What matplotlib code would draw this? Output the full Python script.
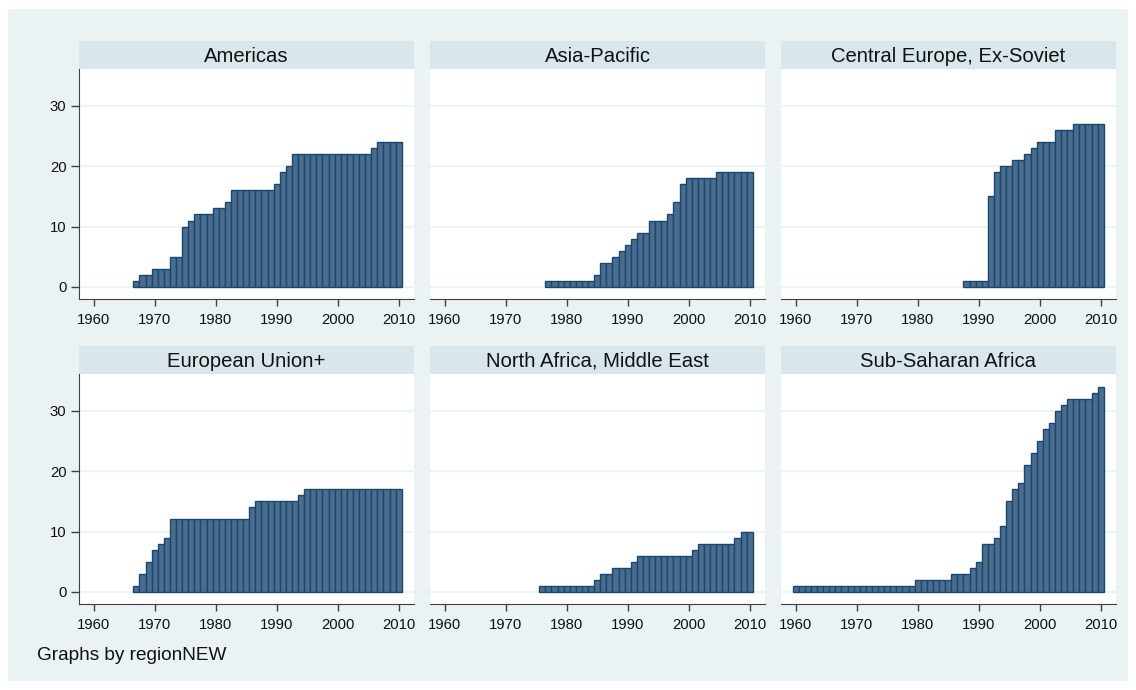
import numpy as np
import matplotlib

matplotlib.use("Agg")
import matplotlib.pyplot as plt  # noqa: E402
from matplotlib.patches import Rectangle  # noqa: E402

plt.rcParams["font.family"] = ["Liberation Sans", "DejaVu Sans"]

# counts per year, each region starts at its first year and runs through 2010
regions = [
    "Americas",
    "Asia-Pacific",
    "Central Europe, Ex-Soviet",
    "European Union+",
    "North Africa, Middle East",
    "Sub-Saharan Africa",
]
start_years = [1967, 1977, 1988, 1967, 1976, 1960]

americas = [1, 2, 2, 3, 3, 3, 5, 5, 10, 11, 12, 12, 12, 13, 13, 14,
            16, 16, 16, 16, 16, 16, 16, 17, 19, 20,
            22, 22, 22, 22, 22, 22, 22, 22, 22, 22, 22, 22, 22, 23, 24, 24, 24, 24]
asia_pacific = [1, 1, 1, 1, 1, 1, 1, 1, 2, 4, 4, 5, 6, 7, 8, 9, 9, 11, 11, 11,
                12, 14, 17, 18, 18, 18, 18, 18, 19, 19, 19, 19, 19, 19]
central_europe = [1, 1, 1, 1, 15, 19, 20, 20, 21, 21, 22, 23, 24, 24, 24,
                  26, 26, 26, 27, 27, 27, 27, 27]
european_union = [1, 3, 5, 7, 8, 9, 12, 12, 12, 12, 12, 12, 12, 12, 12, 12, 12, 12, 12,
                  14, 15, 15, 15, 15, 15, 15, 15, 16,
                  17, 17, 17, 17, 17, 17, 17, 17, 17, 17, 17, 17, 17, 17, 17, 17]
north_africa = [1, 1, 1, 1, 1, 1, 1, 1, 1, 2, 3, 3, 4, 4, 4, 5,
                6, 6, 6, 6, 6, 6, 6, 6, 6, 7, 8, 8, 8, 8, 8, 8, 9, 10, 10]
sub_saharan = [1, 1, 1, 1, 1, 1, 1, 1, 1, 1, 1, 1, 1, 1, 1, 1, 1, 1, 1, 1,
               2, 2, 2, 2, 2, 2, 3, 3, 3, 4, 5, 8, 8, 9, 11, 15, 17, 18, 21, 23,
               25, 27, 28, 30, 31, 32, 32, 32, 32, 33, 34]
series = [americas, asia_pacific, central_europe, european_union, north_africa, sub_saharan]

x_ticks = [1960, 1970, 1980, 1990, 2000, 2010]
y_ticks = [0, 10, 20, 30]

BG = "#eaf2f3"
STRIP = "#d9e6eb"
BAR_FILL = "#4b6d8d"
BAR_EDGE = "#1a476f"
AXIS = "#404040"

W, H = 1136, 690
fig = plt.figure(figsize=(W / 100, H / 100), dpi=100, facecolor="white")
fig.patches.append(Rectangle((8 / W, 9 / H), 1120 / W, 672 / H, transform=fig.transFigure,
                             facecolor=BG, edgecolor="none", zorder=-10))


def px_axes(left, top, width, height):
    return fig.add_axes([left / W, 1 - (top + height) / H, width / W, height / H])


col_left = [79, 430, 781]
plot_top = [69, 374]
plot_w, plot_h, strip_h = 335, 230, 28

for i, (name, start, values) in enumerate(zip(regions, start_years, series)):
    row, col = divmod(i, 3)
    left, top = col_left[col], plot_top[row]

    strip = px_axes(left, top - strip_h, plot_w, strip_h)
    strip.set_facecolor(STRIP)
    strip.set_xticks([])
    strip.set_yticks([])
    for s in strip.spines.values():
        s.set_visible(False)
    strip.text(0.5, 0.45, name, ha="center", va="center", fontsize=14.6, color="#111111",
               transform=strip.transAxes)

    ax = px_axes(left, top, plot_w, plot_h)
    ax.set_facecolor("white")
    years = np.arange(start, start + len(values))
    ax.bar(years, values, width=1.0, color=BAR_FILL, edgecolor=BAR_EDGE, linewidth=1.0, zorder=3)
    ax.set_xlim(1957.6, 2012.5)
    ax.set_ylim(-2, 36.1)
    ax.set_yticks(y_ticks)
    ax.set_xticks(x_ticks)
    ax.grid(axis="y", color=BG, linewidth=1.2, zorder=0)
    ax.spines["top"].set_visible(False)
    ax.spines["right"].set_visible(False)
    ax.spines["bottom"].set_color(AXIS)
    ax.spines["left"].set_color(AXIS)
    ax.tick_params(axis="x", direction="out", length=5, width=1, color=AXIS,
                   labelsize=10.7, pad=5, labelcolor="#111111")
    if col == 0:
        ax.tick_params(axis="y", direction="out", length=6, width=1, color=AXIS,
                       labelsize=10.7, pad=3, labelcolor="#111111")
    else:
        ax.spines["left"].set_visible(False)
        ax.tick_params(axis="y", left=False, labelleft=False)

fig.text(37 / W, 1 - 656 / H, "Graphs by regionNEW", ha="left", va="center", fontsize=13.7,
         color="#111111")

fig.savefig("out.png", dpi=100, facecolor=fig.get_facecolor())
